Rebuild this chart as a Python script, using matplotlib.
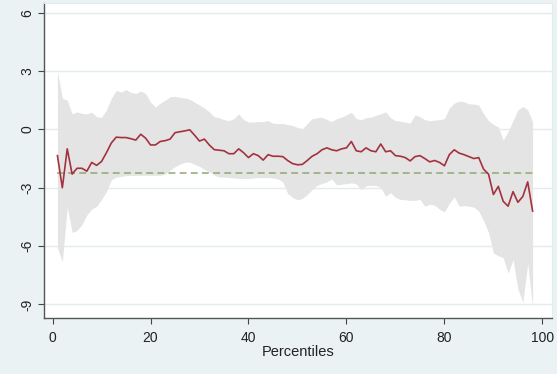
import matplotlib
matplotlib.use("Agg")
import matplotlib.pyplot as plt
import numpy as np

# percentiles 1..98
pct = list(range(1, 99))

# point estimate (red line)
effect = [-1.35, -3.0, -1.0, -2.3, -2.0, -2.0, -2.15, -1.7, -1.85, -1.65,
          -1.2, -0.7, -0.4, -0.42, -0.42, -0.48, -0.55, -0.25, -0.45, -0.8,
          -0.8, -0.62, -0.58, -0.5, -0.17, -0.12, -0.08, -0.02, -0.3, -0.6,
          -0.5, -0.8, -1.04, -1.07, -1.1, -1.25, -1.25, -1.0, -1.2, -1.45,
          -1.25, -1.35, -1.58, -1.3, -1.38, -1.38, -1.4, -1.6, -1.76, -1.82,
          -1.8, -1.6, -1.38, -1.25, -1.05, -0.95, -1.05, -1.1, -1.0, -0.95,
          -0.62, -1.1, -1.15, -0.95, -1.1, -1.15, -0.75, -1.15, -1.1, -1.35,
          -1.38, -1.45, -1.62, -1.4, -1.35, -1.5, -1.67, -1.6, -1.7, -1.87,
          -1.3, -1.05, -1.22, -1.3, -1.4, -1.5, -1.45, -2.05, -2.3, -3.35,
          -2.93, -3.7, -3.95, -3.2, -3.75, -3.45, -2.7, -4.2]

# confidence band
upper = [3.0, 1.6, 1.5, 0.8, 0.9, 0.82, 0.8, 0.88, 0.65, 0.62,
         1.0, 1.6, 2.0, 1.92, 2.05, 1.9, 1.85, 1.97, 1.85, 1.4,
         1.15, 1.35, 1.5, 1.68, 1.7, 1.65, 1.62, 1.55, 1.4, 1.25,
         1.1, 0.9, 0.65, 0.6, 0.5, 0.45, 0.55, 0.8, 0.5, 0.38,
         0.38, 0.4, 0.4, 0.45, 0.32, 0.3, 0.3, 0.25, 0.2, 0.1,
         0.03, 0.3, 0.55, 0.6, 0.63, 0.5, 0.4, 0.55, 0.63, 0.75,
         0.88, 0.55, 0.5, 0.6, 0.63, 0.72, 0.8, 0.9, 0.6, 0.45,
         0.42, 0.38, 0.32, 0.75, 0.65, 0.5, 0.45, 0.48, 0.5, 0.55,
         1.1, 1.35, 1.45, 1.42, 1.32, 1.3, 1.25, 0.8, 0.45, 0.25,
         0.12, -0.55, -0.1, 0.45, 1.0, 1.18, 1.0, 0.4]

lower = [-6.1, -6.8, -4.0, -5.3, -5.2, -4.9, -4.4, -4.1, -3.95, -3.6,
         -3.2, -2.6, -2.45, -2.42, -2.38, -2.36, -2.36, -2.36, -2.36, -2.36,
         -2.36, -2.36, -2.3, -2.1, -1.92, -1.78, -1.7, -1.68, -1.8, -1.9,
         -2.05, -2.18, -2.35, -2.45, -2.45, -2.48, -2.5, -2.52, -2.53, -2.53,
         -2.5, -2.48, -2.48, -2.48, -2.5, -2.55, -2.7, -3.3, -3.5, -3.62,
         -3.55, -3.35, -3.1, -2.88, -2.78, -2.7, -2.55, -2.85, -2.82, -2.79,
         -2.75, -2.8, -3.1, -2.9, -2.88, -2.88, -3.0, -3.44, -3.25, -3.5,
         -3.6, -3.62, -3.65, -3.65, -3.6, -3.95, -3.85, -3.9, -4.1, -4.24,
         -3.8, -3.47, -3.95, -3.92, -3.95, -4.0, -4.2, -4.7, -5.3, -6.35,
         -6.5, -6.6, -7.4, -6.7, -8.2, -8.9, -6.9, -9.13]

avg_effect = -2.24

yticks = [-9, -6, -3, 0, 3, 6]
xticks = [0, 20, 40, 60, 80, 100]

plt.rcParams['font.family'] = ['Liberation Sans', 'DejaVu Sans']

bg = '#EAF2F3'
fig = plt.figure(figsize=(5.57, 3.74), dpi=100, facecolor=bg)
ax = fig.add_axes([0.0785, 0.1497, 0.912, 0.8423])
ax.set_facecolor('white')

ax.fill_between(pct, lower, upper, color='#E4E4E4', linewidth=0, zorder=2)
ax.plot(pct, [avg_effect] * len(pct), color='#8FA870', lw=1.1,
        dashes=(4.5, 2.8), zorder=3)
ax.plot(pct, effect, color='#A3323E', lw=1.2, zorder=4)

ax.set_xlim(-1.8, 101.9)
ax.set_ylim(-9.7, 6.5)
ax.set_yticks(yticks)
ax.set_xticks(xticks)
ax.set_yticklabels([str(t) for t in yticks], rotation=90, va='center')
ax.grid(axis='y', color='#E3ECEE', lw=1.0, zorder=1)
ax.set_axisbelow(True)

for s in ['top', 'right']:
    ax.spines[s].set_color('#E3ECEE')
for s in ['left', 'bottom']:
    ax.spines[s].set_color('#555555')
    ax.spines[s].set_linewidth(1.0)

ax.tick_params(axis='both', direction='out', length=4, width=0.8,
               color='#444444', labelsize=10, labelcolor='#222222', pad=5)
ax.tick_params(axis='y', pad=3)
ax.set_xlabel('Percentiles', fontsize=10.5, color='#222222', labelpad=0)

fig.savefig('out.png', dpi=100, facecolor=bg)
